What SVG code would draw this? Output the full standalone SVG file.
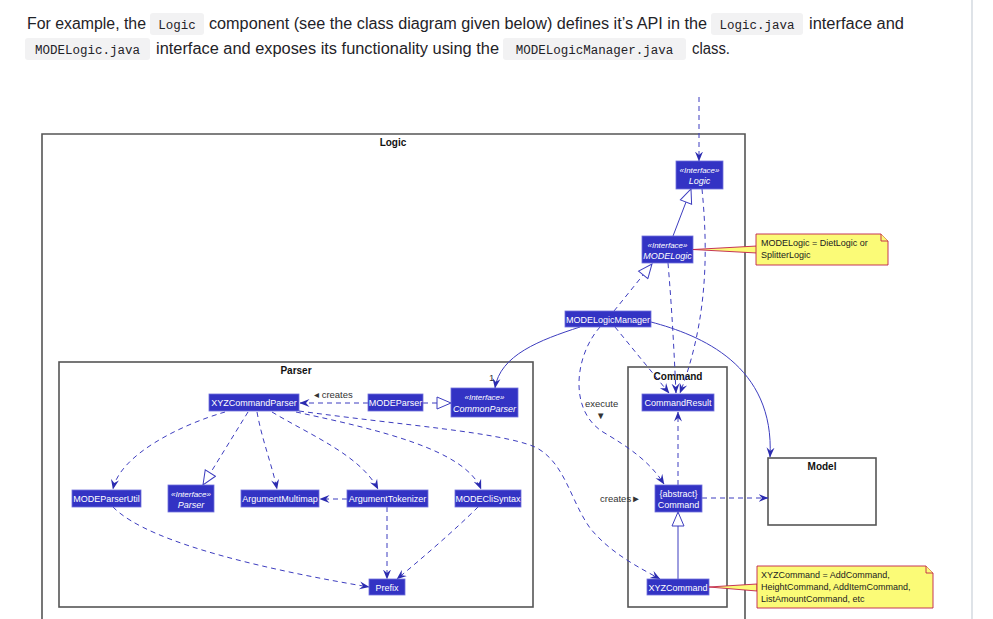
<svg xmlns="http://www.w3.org/2000/svg" width="993" height="619" viewBox="0 0 993 619">
<style>
.para{font-family:"Liberation Sans",Arial,sans-serif;font-size:16px;fill:#1f2328}
.code{font-family:"Liberation Mono","DejaVu Sans Mono",monospace;font-size:12.5px;fill:#1f2328}
.cbg{fill:#f2f2f3}
.frame{fill:none;stroke:#555;stroke-width:1.6}
.ftitle{font-family:"Liberation Sans",Arial,sans-serif;font-size:10px;font-weight:bold;fill:#111;text-anchor:middle}
.node rect{fill:#3333C4;stroke:#7070dd;stroke-width:0.8}
.node text{font-family:"Liberation Sans",Arial,sans-serif;font-size:9px;fill:#ffffff;text-anchor:middle}
.node text.it{font-style:italic}
.node text.st{font-style:italic;font-size:8px}
.note polygon,.note path{fill:#FBFB77;stroke:#C0204A;stroke-width:0.9}
.note text{font-family:"Liberation Sans",Arial,sans-serif;font-size:9px;fill:#222}
.e{fill:none;stroke:#3d3dbf;stroke-width:1}
.d{stroke-dasharray:5,4}
.lbl{font-family:"Liberation Sans",Arial,sans-serif;font-size:9.5px;fill:#333}
</style>
<defs>
<marker id="arr" viewBox="0 0 10 10" refX="9.5" refY="5" markerWidth="10" markerHeight="10" markerUnits="userSpaceOnUse" orient="auto">
<path d="M0,1 L10,5 L0,9 L3.5,5 z" fill="#2b2bb0"/>
</marker>
<marker id="tri" viewBox="0 0 16 14" refX="15" refY="7" markerWidth="16" markerHeight="14" markerUnits="userSpaceOnUse" orient="auto">
<path d="M1,1 L15,7 L1,13 z" fill="#fff" stroke="#3d3dbf" stroke-width="1"/>
</marker>
</defs>
<rect width="993" height="619" fill="#ffffff"/>
<line x1="972" y1="0" x2="972" y2="619" stroke="#c9d1d9" stroke-width="1.2"/>

<g id="intro">
<text class="para" x="27" y="29" textLength="119" lengthAdjust="spacingAndGlyphs">For example, the</text>
<rect class="cbg" x="150" y="13" width="54" height="22" rx="3"/>
<text class="code" x="177" y="28.5" text-anchor="middle">Logic</text>
<text class="para" x="209" y="29" textLength="498" lengthAdjust="spacingAndGlyphs">component (see the class diagram given below) defines it’s API in the</text>
<rect class="cbg" x="711" y="13" width="92" height="22" rx="3"/>
<text class="code" x="757" y="28.5" text-anchor="middle">Logic.java</text>
<text class="para" x="809" y="29" textLength="95" lengthAdjust="spacingAndGlyphs">interface and</text>
<rect class="cbg" x="25" y="38" width="125" height="22" rx="3"/>
<text class="code" x="87.5" y="53.5" text-anchor="middle">MODELogic.java</text>
<text class="para" x="156" y="54" textLength="343" lengthAdjust="spacingAndGlyphs">interface and exposes its functionality using the</text>
<rect class="cbg" x="503" y="38" width="183" height="22" rx="3"/>
<text class="code" x="594.5" y="53.5" text-anchor="middle">MODELogicManager.java</text>
<text class="para" x="692" y="54" textLength="38" lengthAdjust="spacingAndGlyphs">class.</text>
</g>

<g id="frames">
<path class="frame" d="M42,625 L42,134 L745,134 L745,625"/>
<text class="ftitle" x="393" y="146">Logic</text>
<rect class="frame" x="59" y="362" width="474" height="245"/>
<text class="ftitle" x="296" y="374">Parser</text>
<rect class="frame" x="628" y="367" width="99" height="240"/>
<text class="ftitle" x="678" y="380">Command</text>
</g>

<g id="model">
<rect class="frame" x="768" y="458" width="108" height="67" fill="#fff"/>
<text class="ftitle" x="822" y="470">Model</text>
</g>

<g id="connectors">
<path class="e d" d="M699,97 L699,161" marker-end="url(#arr)"/>
<path class="e" d="M673,236 L691,189" marker-end="url(#tri)"/>
<path class="e d" d="M614,311 L652,264" marker-end="url(#tri)"/>
<path class="e d" d="M702,189 C708,250 708,320 680,393" marker-end="url(#arr)"/>
<path class="e d" d="M668,263 C672,310 674,350 676,393" marker-end="url(#arr)"/>
<path class="e d" d="M615,327 L669,393" marker-end="url(#arr)"/>
<path class="e d" d="M600,327 C575,355 568,410 603,432 C630,448 650,462 664,484" marker-end="url(#arr)"/>
<path class="e" d="M580,327 C540,340 500,355 495,388" marker-end="url(#arr)"/>
<path class="e" d="M651,322 C700,335 775,365 770,457" marker-end="url(#arr)"/>
<path class="e d" d="M299,411 C400,425 500,432 535,447 C565,462 570,500 590,528 C610,553 640,568 660,579" marker-end="url(#arr)"/>
<path class="e d" d="M296,412 C380,430 465,450 481,489" marker-end="url(#arr)"/>
<path class="e d" d="M272,412 C310,435 360,455 378,489" marker-end="url(#arr)"/>
<path class="e d" d="M257,412 C262,440 272,465 277,489" marker-end="url(#arr)"/>
<path class="e d" d="M248,412 L203,485" marker-end="url(#tri)"/>
<path class="e d" d="M225,412 C180,425 120,455 113,489" marker-end="url(#arr)"/>
<path class="e d" d="M368,403 L300,403" marker-end="url(#arr)"/>
<path class="e d" d="M423,403 L451,403" marker-end="url(#tri)"/>
<path class="e d" d="M347,499 L320,499" marker-end="url(#arr)"/>
<path class="e d" d="M387,507 L387,579" marker-end="url(#arr)"/>
<path class="e d" d="M478,507 C455,530 420,560 397,579" marker-end="url(#arr)"/>
<path class="e d" d="M113,507 C150,545 280,572 369,587" marker-end="url(#arr)"/>
<path class="e d" d="M678,485 L678,412" marker-end="url(#arr)"/>
<path class="e d" d="M702,498 L768,498" marker-end="url(#arr)"/>
<path class="e" d="M678,579 L678,512" marker-end="url(#tri)"/>
<text class="lbl" x="314" y="398">◂ creates</text>
<text class="lbl" x="489" y="381">1</text>
<text class="lbl" x="585" y="407">execute</text>
<text class="lbl" x="596" y="419" font-size="8">▼</text>
<text class="lbl" x="600" y="502">creates►</text>
</g>

<g id="logic" class="node">
<rect x="676" y="161" width="47" height="28"/>
<text class="st" x="699.5" y="173">«Interface»</text>
<text class="it" x="699.5" y="184">Logic</text>
</g>
<g id="modelogic" class="node">
<rect x="642" y="236" width="51" height="27"/>
<text class="st" x="667.5" y="248">«Interface»</text>
<text class="it" x="667.5" y="259">MODELogic</text>
</g>
<g id="modelogicmanager" class="node">
<rect x="565" y="311" width="86" height="16"/>
<text x="608" y="322.5">MODELogicManager</text>
</g>
<g id="note-modelogic" class="note">
<polygon points="693,249.5 757,246 757,253"/>
<path d="M756,234 L881,234 L888,241 L888,265 L756,265 Z"/>
<path d="M881,234 L881,241 L888,241"/>
<text x="761" y="246">MODELogic = DietLogic or</text>
<text x="761" y="258">SplitterLogic</text>
</g>

<g id="xyzcommandparser" class="node">
<rect x="209" y="394" width="90" height="17"/>
<text x="254" y="406">XYZCommandParser</text>
</g>
<g id="modeparser" class="node">
<rect x="368" y="394" width="55" height="17"/>
<text x="395.5" y="406">MODEParser</text>
</g>
<g id="commonparser" class="node">
<rect x="451" y="388" width="67" height="29"/>
<text class="st" x="484.5" y="400">«Interface»</text>
<text class="it" x="484.5" y="412">CommonParser</text>
</g>
<g id="modeparserutil" class="node">
<rect x="72" y="490" width="69" height="17"/>
<text x="106.5" y="502">MODEParserUtil</text>
</g>
<g id="parser" class="node">
<rect x="168" y="485" width="46" height="27"/>
<text class="st" x="191" y="497">«Interface»</text>
<text class="it" x="191" y="508">Parser</text>
</g>
<g id="argumentmultimap" class="node">
<rect x="241" y="490" width="78" height="17"/>
<text x="280" y="502">ArgumentMultimap</text>
</g>
<g id="argumenttokenizer" class="node">
<rect x="347" y="490" width="81" height="17"/>
<text x="387.5" y="502">ArgumentTokenizer</text>
</g>
<g id="modeclisyntax" class="node">
<rect x="455" y="490" width="66" height="17"/>
<text x="488" y="502">MODECliSyntax</text>
</g>
<g id="prefix" class="node">
<rect x="369" y="579" width="36" height="16"/>
<text x="387" y="590.5">Prefix</text>
</g>

<g id="commandresult" class="node">
<rect x="642" y="394" width="72" height="17"/>
<text x="678" y="406">CommandResult</text>
</g>
<g id="command" class="node">
<rect x="655" y="485" width="47" height="27"/>
<text x="678.5" y="496.5">{abstract}</text>
<text x="678.5" y="508">Command</text>
</g>
<g id="xyzcommand" class="node">
<rect x="647" y="579" width="62" height="16"/>
<text x="678" y="590.5">XYZCommand</text>
</g>
<g id="note-xyzcommand" class="note">
<polygon points="709,587 757,584 757,591"/>
<path d="M757,566 L926,566 L933,573 L933,608 L757,608 Z"/>
<path d="M926,566 L926,573 L933,573"/>
<text x="761" y="578">XYZCommand = AddCommand,</text>
<text x="761" y="590">HeightCommand, AddItemCommand,</text>
<text x="761" y="602">ListAmountCommand, etc</text>
</g>
</svg>
